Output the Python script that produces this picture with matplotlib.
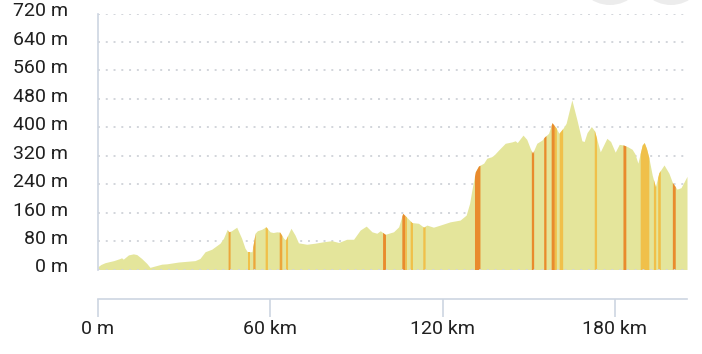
import numpy as np
import matplotlib
matplotlib.use("Agg")
import matplotlib.pyplot as plt
from matplotlib.patches import Circle
import matplotlib.transforms as mtransforms

plt.rcParams['font.family'] = ['Roboto', 'DejaVu Sans']

# ---- data ----
distance_km = [0, 1, 2.4, 3.9, 5.5, 7.7, 8.2, 8.8, 10.6, 12.3, 13.5, 15.2, 17.0, 18.1, 19.0,
               22.2, 24.0, 28.0, 33.8, 35.5, 37.3, 39.6, 42.5, 43.7, 45.0, 45.6, 46.5, 48.3,
               50.0, 51.2, 52.0, 53.6, 54.7, 55.5, 57.0, 58.5, 59.9, 61.0, 62.3, 63.3, 64.6,
               65.3, 67.2, 68.6, 69.8, 72.7, 75.6, 78.5, 81.4, 83.8, 86.6, 89.0, 91.3, 93.4,
               95.4, 97.1, 98.3, 100.0, 102.9, 104.7, 106.1, 107.5, 109.3, 111.6, 113.4,
               114.5, 116.8, 119.2, 122.6, 126.1, 128.2, 129.4, 130.2, 131.4, 132.5, 134.3,
               135.4, 137.0, 137.9, 139.5, 141.8, 144.2, 145.3, 146.0, 148.0, 149.3, 150.5,
               151.3, 152.8, 154.6, 155.5, 156.9, 158.1, 159.6, 160.5, 161.9, 163.0, 165.0,
               166.8, 168.5, 169.3, 170.3, 171.8, 172.9, 174.9, 177.2, 178.5, 180.1, 181.5,
               183.0, 184.5, 186.0, 187.0, 188.0, 189.5, 190.2, 191.0, 191.8, 193.0, 194.1,
               195.3, 197.1, 198.8, 200.0, 201.6, 203.0, 204.0, 205.1]
elevation_m = [8, 14, 19, 22, 25, 31, 33, 29, 41, 44, 42, 31, 17, 6, 8,
               15, 16, 21, 25, 31, 50, 57, 74, 88, 113, 106, 109, 119,
               88, 60, 50, 50, 102, 109, 113, 120, 106, 104, 106, 105, 88,
               83, 116, 97, 75, 71, 74, 78, 81, 76, 85, 85, 111, 122,
               106, 102, 109, 99, 106, 120, 158, 147, 132, 130, 119,
               125, 119, 125, 134, 139, 153, 186, 224, 275, 291, 299,
               313, 317, 322, 336, 355, 359, 362, 357, 378, 366, 341,
               327, 355, 364, 373, 383, 413, 397, 383, 397, 411, 477,
               420, 362, 360, 385, 402, 390, 331, 369, 360, 330, 352,
               350, 345, 338, 325, 299, 350, 357, 340, 315, 265, 233,
               272, 294, 271, 245, 226, 230, 245, 262]

# steep segments: start km, end km, category
steep_start = [45.3, 52.1, 53.9, 58.2, 63.1, 65.3, 99.1, 105.8, 106.9, 108.7, 113.1,
               131.1, 150.9, 155.2, 157.8, 158.9, 160.6, 172.8, 182.8, 188.8, 193.4,
               194.9, 200.0]
steep_end = [46.0, 53.0, 54.7, 59.0, 64.0, 66.0, 100.1, 106.9, 107.4, 109.5, 113.9,
             133.0, 151.7, 156.0, 158.9, 159.6, 161.8, 173.6, 183.8, 191.8, 194.2,
             195.8, 201.0]
steep_class = ['mid', 'yellow', 'mid', 'yellow', 'mid', 'yellow', 'orange', 'orange',
               'yellow', 'yellow', 'yellow', 'orange', 'orange', 'orange', 'orange',
               'yellow', 'yellow', 'yellow', 'orange', 'yellow', 'yellow', 'yellow',
               'orange']

y_ticks = [0, 80, 160, 240, 320, 400, 480, 560, 640, 720]
x_ticks = [0, 60, 120, 180]
x_tick_labels = ['0 m', '60 km', '120 km', '180 km']

# ---- style ----
FILL = '#e4e59b'
BAND_COLORS = {'orange': '#e98b2d', 'yellow': '#f0c04a', 'mid': '#eca63b'}
AXIS_COLOR = '#cdd5e1'
GRID_COLOR = '#d2d5db'
TEXT_COLOR = '#1f1f1f'

fig = plt.figure(figsize=(7.02, 3.54), dpi=100)
ax = fig.add_axes([98 / 702, 1 - 269.5 / 354, 589 / 702, 256 / 354])

x = np.array(distance_km, dtype=float)
y = np.array(elevation_m, dtype=float)
ax.fill_between(x, 0, y, color=FILL, linewidth=0, zorder=2)

for s, e, c in zip(steep_start, steep_end, steep_class):
    inner = x[(x > s) & (x < e)]
    bx = np.concatenate([[s], inner, [e]])
    by = np.interp(bx, x, y)
    ax.fill_between(bx, 0, by, color=BAND_COLORS[c], linewidth=0, zorder=3)

ax.set_xlim(0, 205.1)
ax.set_ylim(0, 720)

# grid
ax.set_yticks(y_ticks)
ax.set_yticklabels([f'{v} m' for v in y_ticks])
for v in y_ticks:
    ax.axhline(v, color=GRID_COLOR, linewidth=1.4, linestyle=(0, (1, 3)),
               zorder=1 if v > 0 else 4)

# spines
for side in ['top', 'right']:
    ax.spines[side].set_visible(False)
ax.spines['left'].set_color(AXIS_COLOR)
ax.spines['left'].set_linewidth(1.2)
ax.spines['bottom'].set_color(AXIS_COLOR)
ax.spines['bottom'].set_linewidth(1.2)
ax.spines['bottom'].set_position(('outward', 21.2))

ax.tick_params(axis='y', length=0, pad=21.6, labelsize=14, labelcolor=TEXT_COLOR)
ax.tick_params(axis='x', length=13, width=1.2, color=AXIS_COLOR, direction='out',
               pad=2.5, labelsize=14, labelcolor=TEXT_COLOR)
ax.set_xticks(x_ticks)
ax.set_xticklabels(x_tick_labels)

offset = mtransforms.ScaledTranslation(0, 4 / 100, fig.dpi_scale_trans)
for lab in ax.get_yticklabels():
    lab.set_transform(lab.get_transform() + offset)

# UI buttons partially visible at top right
for cx in (610, 671):
    fig.patches.append(Circle((cx, 354 + 30), 35, transform=None,
                              facecolor='#ececec', edgecolor='none'))

fig.savefig('out.png', dpi=100)
